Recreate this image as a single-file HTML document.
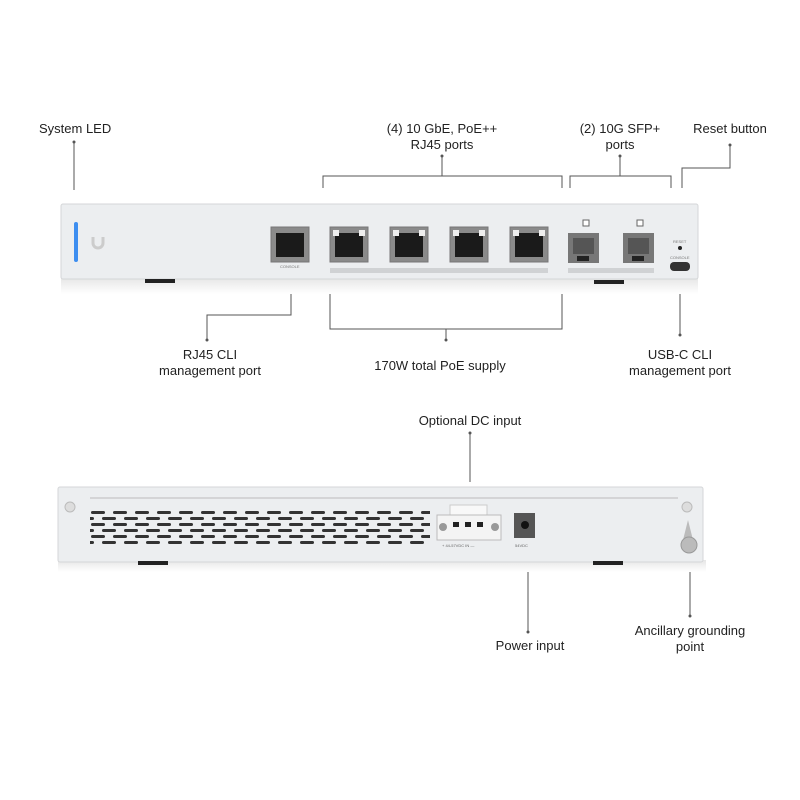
<!DOCTYPE html>
<html><head><style>
body{margin:0;width:800px;height:800px;background:#fff;position:relative;overflow:hidden;font-family:"Liberation Sans",sans-serif;}
.t{position:absolute;font-size:13px;color:#222;text-align:center;line-height:16px;white-space:nowrap;}
.a{position:absolute;}
</style></head><body>
<div class="t" style="left:39px;top:121px;text-align:left">System LED</div>
<div class="t" style="left:372px;top:121px;width:140px">(4) 10 GbE, PoE++<br>RJ45 ports</div>
<div class="t" style="left:560px;top:121px;width:120px">(2) 10G SFP+<br>ports</div>
<div class="t" style="left:680px;top:121px;width:100px">Reset button</div>
<div class="t" style="left:150px;top:347px;width:120px">RJ45 CLI<br>management port</div>
<div class="t" style="left:360px;top:358px;width:160px">170W total PoE supply</div>
<div class="t" style="left:620px;top:347px;width:120px">USB-C CLI<br>management port</div>
<div class="t" style="left:400px;top:413px;width:140px">Optional DC input</div>
<div class="t" style="left:470px;top:638px;width:120px">Power input</div>
<div class="t" style="left:620px;top:623px;width:140px">Ancillary grounding<br>point</div>

<svg class="a" style="left:0;top:0" width="800" height="800">
<defs>
<linearGradient id="sh" x1="0" y1="0" x2="0" y2="1"><stop offset="0" stop-color="#e6e6e6"/><stop offset="1" stop-color="#fff"/></linearGradient>
<pattern id="vent" x="90" y="510" width="22" height="12" patternUnits="userSpaceOnUse">
<rect x="1" y="1" width="14" height="3" rx="1.5" fill="#333"/><rect x="12" y="7" width="14" height="3" rx="1.5" fill="#333"/><rect x="-10" y="7" width="14" height="3" rx="1.5" fill="#333"/></pattern>
</defs>
<g stroke="#555" stroke-width="1" fill="none">
<path d="M74 142V190"/>
<path d="M323 188V176H562V188M442 176V156"/>
<path d="M570 188V176H671V188M620 176V156"/>
<path d="M682 188V168H730V145"/>
<path d="M291 290V315H207V340"/>
<path d="M330 292V329H562V292M446 329V340"/>
<path d="M680 290V335"/>
<path d="M470 433V482"/>
<path d="M528 572V632"/>
<path d="M690 572V616"/>
</g>
<g fill="#555"><circle cx="74" cy="142" r="1.5"/><circle cx="442" cy="156" r="1.5"/><circle cx="620" cy="156" r="1.5"/><circle cx="730" cy="145" r="1.5"/><circle cx="207" cy="340" r="1.5"/><circle cx="446" cy="340" r="1.5"/><circle cx="680" cy="335" r="1.5"/><circle cx="470" cy="433" r="1.5"/><circle cx="528" cy="632" r="1.5"/><circle cx="690" cy="616" r="1.5"/></g>

<!-- front -->
<rect x="61" y="278" width="637" height="16" fill="url(#sh)"/>
<rect x="61" y="204" width="637" height="75" rx="2" fill="#eceef0" stroke="#d4d6d8"/>
<rect x="145" y="279" width="30" height="4" fill="#222"/>
<rect x="594" y="280" width="30" height="4" fill="#222"/>
<rect x="74" y="222" width="4" height="40" rx="2" fill="#3d8ef0"/>
<path d="M93 237v6a5 5 0 0 0 10 0v-6" stroke="#ccc" stroke-width="3" fill="none"/>
<g fill="#8a8a8a" stroke="#777">
<rect x="271" y="227" width="38" height="35"/><rect x="330" y="227" width="38" height="35"/><rect x="390" y="227" width="38" height="35"/><rect x="450" y="227" width="38" height="35"/><rect x="510" y="227" width="38" height="35"/>
</g>
<g fill="#1a1a1a">
<rect x="276" y="233" width="28" height="24"/><rect x="335" y="233" width="28" height="24"/><rect x="395" y="233" width="28" height="24"/><rect x="455" y="233" width="28" height="24"/><rect x="515" y="233" width="28" height="24"/>
</g>
<g fill="#eee"><rect x="333" y="230" width="6" height="6"/><rect x="359" y="230" width="6" height="6"/><rect x="393" y="230" width="6" height="6"/><rect x="419" y="230" width="6" height="6"/><rect x="453" y="230" width="6" height="6"/><rect x="479" y="230" width="6" height="6"/><rect x="513" y="230" width="6" height="6"/><rect x="539" y="230" width="6" height="6"/></g>
<rect x="330" y="268" width="218" height="5" fill="#d0d2d4"/><rect x="568" y="268" width="86" height="5" fill="#d0d2d4"/>
<rect x="568" y="233" width="31" height="30" fill="#777"/><rect x="623" y="233" width="31" height="30" fill="#777"/>
<rect x="573" y="238" width="21" height="16" fill="#555"/><rect x="628" y="238" width="21" height="16" fill="#555"/>
<rect x="577" y="256" width="12" height="5" fill="#222"/><rect x="632" y="256" width="12" height="5" fill="#222"/>
<rect x="583" y="220" width="6" height="6" fill="#fff" stroke="#666"/><rect x="637" y="220" width="6" height="6" fill="#fff" stroke="#666"/>
<circle cx="680" cy="248" r="2" fill="#222"/>
<rect x="670" y="262" width="20" height="9" rx="4" fill="#333"/>
<g font-size="4" fill="#777" font-family="Liberation Sans"><text x="280" y="268">CONSOLE</text><text x="673" y="243">RESET</text><text x="670" y="259">CONSOLE</text></g>

<!-- back -->
<rect x="58" y="560" width="648" height="12" fill="url(#sh)"/>
<rect x="58" y="487" width="645" height="75" rx="2" fill="#eceef0" stroke="#d4d6d8"/>
<line x1="90" y1="498" x2="678" y2="498" stroke="#bbb"/>
<rect x="138" y="561" width="30" height="4" fill="#222"/>
<rect x="593" y="561" width="30" height="4" fill="#222"/>
<rect x="90" y="510" width="340" height="36" fill="url(#vent)"/>
<circle cx="70" cy="507" r="5" fill="#ddd" stroke="#bbb"/><circle cx="687" cy="507" r="5" fill="#ddd" stroke="#bbb"/>
<rect x="450" y="505" width="37" height="18" fill="#f8f8f8" stroke="#ccc"/>
<rect x="437" y="515" width="64" height="25" fill="#f4f4f4" stroke="#bbb"/>
<circle cx="443" cy="527" r="4" fill="#999"/><circle cx="495" cy="527" r="4" fill="#999"/>
<rect x="453" y="522" width="6" height="5" fill="#222"/><rect x="465" y="522" width="6" height="5" fill="#222"/><rect x="477" y="522" width="6" height="5" fill="#222"/>
<rect x="514" y="513" width="21" height="25" fill="#555"/><circle cx="525" cy="525" r="4" fill="#111"/>
<path d="M683 540l5-20 5 20z" fill="#bbb"/><circle cx="689" cy="545" r="8" fill="#bbb" stroke="#999"/>
<g font-size="4" fill="#666" font-family="Liberation Sans"><text x="442" y="547">+ 44-57VDC IN —</text><text x="515" y="547">54VDC</text></g>
</svg>
</body></html>
